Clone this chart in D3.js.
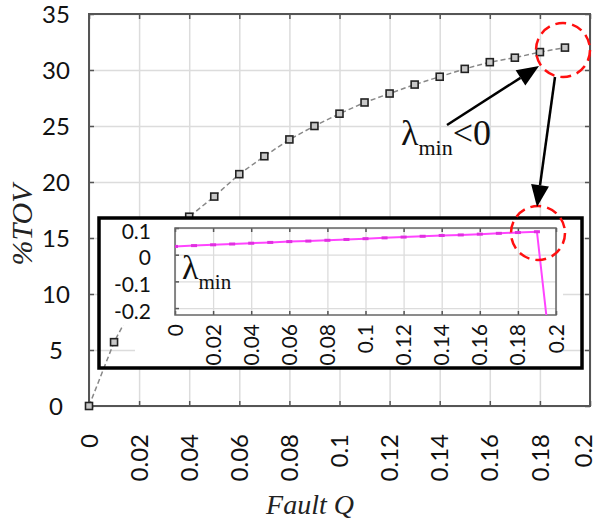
<!DOCTYPE html>
<html>
<head>
<meta charset="utf-8">
<script src="https://cdn.jsdelivr.net/npm/d3@7"></script>
<style>
  body { margin: 0; background: #fff; }
  svg { display: block; }
</style>
</head>
<body>
<div id="chart"></div>
<script>

// main series: fault Q vs %TOV
var faultQ = [0, 0.01, 0.02, 0.03, 0.04, 0.05, 0.06, 0.07, 0.08, 0.09,
              0.1, 0.11, 0.12, 0.13, 0.14, 0.15, 0.16, 0.17, 0.18, 0.19];
var tov = [0, 5.7, 9.9, 13.6, 16.9, 18.7, 20.7, 22.3, 23.8, 25.0,
           26.1, 27.1, 27.9, 28.7, 29.4, 30.1, 30.7, 31.1, 31.6, 32.0];

// inset series: lambda_min vs fault Q
var lambdaQ = [0, 0.01, 0.02, 0.03, 0.04, 0.05, 0.06, 0.07, 0.08, 0.09,
               0.1, 0.11, 0.12, 0.13, 0.14, 0.15, 0.16, 0.17, 0.18, 0.19, 0.2];
var lambdaMin = [0.031, 0.034, 0.037, 0.040, 0.043, 0.046, 0.049, 0.051, 0.054, 0.057,
                 0.060, 0.063, 0.066, 0.069, 0.072, 0.074, 0.077, 0.080, 0.083, 0.086, -0.55];

// ticks
var xTicks = [0, 0.02, 0.04, 0.06, 0.08, 0.1, 0.12, 0.14, 0.16, 0.18, 0.2];
var xTickLabels = ["0", "0.02", "0.04", "0.06", "0.08", "0.1", "0.12", "0.14", "0.16", "0.18", "0.2"];
var yTicks = [0, 5, 10, 15, 20, 25, 30, 35];
var insetYTicks = [0.1, 0, -0.1, -0.2];
var insetYTickLabels = ["0.1", "0", "-0.1", "-0.2"];

var W = 598, H = 522;
var numFont = "Lato, 'Open Sans', sans-serif";
var serif = "'Liberation Serif', 'DejaVu Serif', serif";

var svg = d3.select("#chart").append("svg")
    .attr("width", W).attr("height", H);

// ---------- main chart ----------
var x = d3.scaleLinear().domain([0, 0.2]).range([89, 590]);
var y = d3.scaleLinear().domain([0, 35]).range([406, 14]);

// gridlines
svg.append("g").attr("transform", "translate(0," + y(0) + ")")
    .call(d3.axisBottom(x).tickValues(xTicks).tickSize(-(y(0) - y(35))).tickFormat(""))
    .call(function(g) { g.select(".domain").remove(); })
    .selectAll("line").attr("stroke", "#dcdcdc").attr("stroke-width", 1.5);
svg.append("g").attr("transform", "translate(" + x(0) + ",0)")
    .call(d3.axisLeft(y).tickValues(yTicks).tickSize(-(x(0.2) - x(0))).tickFormat(""))
    .call(function(g) { g.select(".domain").remove(); })
    .selectAll("line").attr("stroke", "#dcdcdc").attr("stroke-width", 1.5);

// inward ticks on all four sides
var tickStyle = function(g) {
    g.select(".domain").remove();
    g.selectAll("line").attr("stroke", "#555").attr("stroke-width", 1.5);
};
svg.append("g").attr("transform", "translate(0," + y(0) + ")")
    .call(d3.axisBottom(x).tickValues(xTicks).tickSize(-5).tickFormat("")).call(tickStyle);
svg.append("g").attr("transform", "translate(0," + y(35) + ")")
    .call(d3.axisTop(x).tickValues(xTicks).tickSize(-5).tickFormat("")).call(tickStyle);
svg.append("g").attr("transform", "translate(" + x(0) + ",0)")
    .call(d3.axisLeft(y).tickValues(yTicks).tickSize(-5).tickFormat("")).call(tickStyle);
svg.append("g").attr("transform", "translate(" + x(0.2) + ",0)")
    .call(d3.axisRight(y).tickValues(yTicks).tickSize(-5).tickFormat("")).call(tickStyle);

// frame
svg.append("rect").attr("x", x(0)).attr("y", y(35))
    .attr("width", x(0.2) - x(0)).attr("height", y(0) - y(35))
    .attr("fill", "none").attr("stroke", "#555").attr("stroke-width", 2);

// tick labels
svg.selectAll(".ylab").data(yTicks).enter().append("text")
    .attr("x", 56).attr("y", function(d) { return y(d); }).attr("dy", "0.36em")
    .attr("text-anchor", "middle").style("font", "24px " + numFont).attr("fill", "#111")
    .text(function(d) { return d; });
svg.selectAll(".xlab").data(xTicks).enter().append("text")
    .attr("transform", function(d) { return "translate(" + x(d) + ",434) rotate(-90)"; })
    // last label sits against the right edge, nudge it in a bit
    .attr("dy", function(d, i) { return i == xTicks.length - 1 ? "0.1em" : "0.36em"; })
    .attr("text-anchor", "end")
    .style("font", "24px " + numFont).attr("fill", "#111")
    .text(function(d, i) { return xTickLabels[i]; });

// axis titles
svg.append("text").attr("transform", "translate(32,225) rotate(-90)")
    .attr("text-anchor", "middle").style("font", "italic 30px " + serif).attr("fill", "#222")
    .text("%TOV");
svg.append("text").attr("x", 310).attr("y", 514)
    .attr("text-anchor", "middle").style("font", "italic 28px " + serif).attr("fill", "#222")
    .text("Fault Q");

// series line + markers
var mainPts = faultQ.map(function(d, i) { return [d, tov[i]]; });
var mainLayer = svg.append("g");
mainLayer.append("path").datum(mainPts)
    .attr("d", d3.line().x(function(d) { return x(d[0]); }).y(function(d) { return y(d[1]); }))
    .attr("fill", "none").attr("stroke", "#888").attr("stroke-width", 1.5)
    .attr("stroke-dasharray", "5,3");
mainLayer.selectAll(".mk").data(mainPts).enter().append("rect")
    .attr("x", function(d) { return x(d[0]) - 3.5; })
    .attr("y", function(d) { return y(d[1]) - 3.5; })
    .attr("width", 7).attr("height", 7)
    .attr("fill", "#c8c8c8").attr("stroke", "#222").attr("stroke-width", 1.6);

// ---------- inset ----------
var box = {x0: 99, y0: 218, x1: 582, y1: 368};
// white background with the lower corners left open (main chart shows through there)
svg.append("path")
    .attr("d", "M" + box.x0 + "," + box.y0 + "H" + box.x1 + "V285H563V" + box.y1 +
               "H135V325H" + box.x0 + "Z")
    .attr("fill", "#fff");

var ix = d3.scaleLinear().domain([0, 0.2]).range([175, 556]);
var iy = d3.scaleLinear().domain([-0.226, 0.1]).range([315, 228]);

var inset = svg.append("g");
inset.append("g").attr("transform", "translate(0," + iy(-0.226) + ")")
    .call(d3.axisBottom(ix).tickValues(xTicks).tickSize(-(iy(-0.226) - iy(0.1))).tickFormat(""))
    .call(function(g) { g.select(".domain").remove(); })
    .selectAll("line").attr("stroke", "#dcdcdc").attr("stroke-width", 1.3);
inset.append("g").attr("transform", "translate(" + ix(0) + ",0)")
    .call(d3.axisLeft(iy).tickValues(insetYTicks).tickSize(-(ix(0.2) - ix(0))).tickFormat(""))
    .call(function(g) { g.select(".domain").remove(); })
    .selectAll("line").attr("stroke", "#dcdcdc").attr("stroke-width", 1.3);
inset.append("g").attr("transform", "translate(0," + iy(-0.226) + ")")
    .call(d3.axisBottom(ix).tickValues(xTicks).tickSize(-4).tickFormat("")).call(tickStyle);
inset.append("g").attr("transform", "translate(0," + iy(0.1) + ")")
    .call(d3.axisTop(ix).tickValues(xTicks).tickSize(-4).tickFormat("")).call(tickStyle);
inset.append("g").attr("transform", "translate(" + ix(0) + ",0)")
    .call(d3.axisLeft(iy).tickValues(insetYTicks).tickSize(-4).tickFormat("")).call(tickStyle);
inset.append("rect").attr("x", ix(0)).attr("y", iy(0.1))
    .attr("width", ix(0.2) - ix(0)).attr("height", iy(-0.226) - iy(0.1))
    .attr("fill", "none").attr("stroke", "#666").attr("stroke-width", 1.5);

inset.selectAll(".iylab").data(insetYTicks).enter().append("text")
    .attr("x", 151).attr("y", function(d) { return iy(d) + 3; }).attr("dy", "0.36em")
    .attr("text-anchor", "end").style("font", "21px " + numFont).attr("fill", "#111")
    .text(function(d, i) { return insetYTickLabels[i]; });
inset.selectAll(".ixlab").data(xTicks).enter().append("text")
    .attr("transform", function(d) { return "translate(" + ix(d) + ",324) rotate(-90)"; })
    .attr("dy", "0.36em").attr("text-anchor", "end")
    .style("font", "21px " + numFont).attr("fill", "#111")
    .text(function(d, i) { return xTickLabels[i]; });

// lambda_min label inside the inset
var lam = inset.append("text").attr("x", 182).attr("y", 279)
    .style("font", "34px " + serif).attr("fill", "#111");
lam.append("tspan").text("\u03BB");
lam.append("tspan").attr("dy", 10).style("font-size", "21px").text("min");

// lambda_min series, clipped to the plot area
svg.append("clipPath").attr("id", "iclip").append("rect")
    .attr("x", ix(0)).attr("y", iy(0.1) - 5)
    .attr("width", ix(0.2) - ix(0)).attr("height", iy(-0.226) - iy(0.1) + 5);
var lamPts = lambdaQ.map(function(d, i) { return [d, lambdaMin[i]]; });
var lamLayer = inset.append("g").attr("clip-path", "url(#iclip)");
lamLayer.append("path").datum(lamPts)
    .attr("d", d3.line().x(function(d) { return ix(d[0]); }).y(function(d) { return iy(d[1]); }))
    .attr("fill", "none").attr("stroke", "#ff44ff").attr("stroke-width", 2);
lamLayer.selectAll(".lm").data(lamPts.slice(0, lamPts.length - 1)).enter().append("rect")
    .attr("x", function(d) { return ix(d[0]) - 3; })
    .attr("y", function(d) { return iy(d[1]) - 1.5; })
    .attr("width", 6).attr("height", 3).attr("fill", "#e030e0");

// inset outer border
svg.append("rect").attr("x", box.x0).attr("y", box.y0)
    .attr("width", box.x1 - box.x0).attr("height", box.y1 - box.y0)
    .attr("fill", "none").attr("stroke", "#000").attr("stroke-width", 3.5);

// ---------- annotations ----------
var circles = [[563, 50], [538, 233]];
svg.selectAll(".ring").data(circles).enter().append("circle")
    .attr("cx", function(d) { return d[0]; }).attr("cy", function(d) { return d[1]; })
    .attr("r", 27).attr("fill", "none").attr("stroke", "#ff1010")
    .attr("stroke-width", 2.5).attr("stroke-dasharray", "11,6");

// arrow with filled triangular head
var arrow = function(x1, y1, x2, y2) {
    var dx = x2 - x1, dy = y2 - y1;
    var len = Math.sqrt(dx * dx + dy * dy);
    var ux = dx / len, uy = dy / len;
    var hl = 22, hw = 9;
    var bx = x2 - ux * hl, by = y2 - uy * hl;
    svg.append("line").attr("x1", x1).attr("y1", y1).attr("x2", bx).attr("y2", by)
        .attr("stroke", "#000").attr("stroke-width", 2.5);
    svg.append("polygon")
        .attr("points", [[x2, y2], [bx - uy * hw, by + ux * hw], [bx + uy * hw, by - ux * hw]].join(" "))
        .attr("fill", "#000");
};
arrow(447, 125, 539, 66);
arrow(555, 77, 537, 207);

var note = svg.append("text").attr("x", 401).attr("y", 145)
    .style("font", "36px " + serif).attr("fill", "#111");
note.append("tspan").text("\u03BB");
note.append("tspan").attr("dy", 10).style("font-size", "22px").text("min");
note.append("tspan").attr("dy", -10).text("<0");

</script>
</body>
</html>
